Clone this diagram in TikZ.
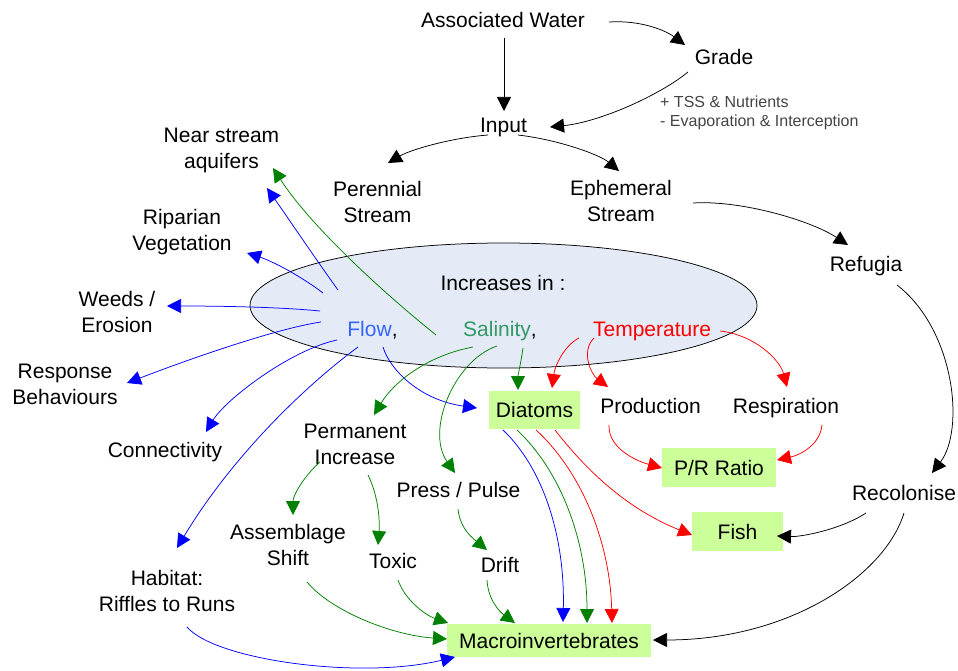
\documentclass[tikz,border=0pt]{standalone}
\usepackage{fontspec}
\setmainfont{Liberation Sans}
\usetikzlibrary{arrows.meta,shapes.geometric}
\definecolor{ellfill}{RGB}{228,234,246}
\definecolor{boxgreen}{RGB}{204,255,153}
\definecolor{flowtext}{RGB}{51,102,255}
\definecolor{saltext}{RGB}{51,153,102}
\definecolor{arrblue}{RGB}{0,0,255}
\definecolor{arrgreen}{RGB}{0,128,0}
\definecolor{arrred}{RGB}{255,0,0}
\definecolor{notegray}{RGB}{68,68,68}
\tikzset{
  lbl/.style={font=\fontsize{21}{26}\selectfont, inner sep=0pt, align=center},
  one/.style={lbl, anchor=base},
  two/.style={lbl, anchor=north},
  gbox/.style={lbl, anchor=center, fill=boxgreen},
  notetext/.style={font=\fontsize{16}{19}\selectfont, inner sep=0pt, align=left, text=notegray, anchor=north west},
  con/.style={line width=0.75pt, -{Triangle[length=14pt,width=14pt]}},
  blk/.style={con, draw=black},
  blu/.style={con, draw=arrblue},
  grn/.style={con, draw=arrgreen},
  rd/.style={con, draw=arrred}
}
\begin{document}
\begin{tikzpicture}[x=1pt,y=-1pt]
\useasboundingbox (0,0) rectangle (958,671);
% ellipse
\node[ellipse, draw=black, line width=0.75pt, fill=ellfill, minimum width=507pt, minimum height=125pt, inner sep=0pt] (ell) at (503.5,305.5) {};
% text nodes
\node[one] (aw) at (503,28) {Associated Water};
\node[one] (grade) at (724,65) {Grade};
\node[one] (input) at (503.5,133) {Input};
\node[notetext] (note) at (660,95.5) {+ TSS \& Nutrients\\- Evaporation \& Interception};
\node[two] (per) at (377.5,181) {Perennial\\Stream};
\node[two] (eph) at (621,180) {Ephemeral\\Stream};
\node[one] (refugia) at (866,271) {Refugia};
\node[two] (nsa) at (221.5,128) {Near stream\\aquifers};
\node[two] (rip) at (182,209) {Riparian\\Vegetation};
\node[two] (weeds) at (117,291) {Weeds /\\Erosion};
\node[two] (resp) at (65,364) {Response\\Behaviours};
\node[one] (conn) at (165,457) {Connectivity};
\node[two] (hab) at (167,570) {Habitat:\\Riffles to Runs};
\node[one] (inc) at (503,290) {Increases in :};
\node[one] (flow) at (372.5,336) {{\color{flowtext}Flow},};
\node[one] (sal) at (500,336) {{\color{saltext}Salinity},};
\node[one, text=arrred] (temp) at (652,336) {Temperature};
\node[gbox, minimum width=91pt, minimum height=38pt] (diat) at (534.5,410) {Diatoms};
\node[one] (prod) at (650.5,413) {Production};
\node[one] (respi) at (786,413) {Respiration};
\node[gbox, minimum width=114pt, minimum height=39pt] (pr) at (719,467.5) {P/R Ratio};
\node[two] (perm) at (355,424) {Permanent\\Increase};
\node[one] (press) at (458.5,497) {Press / Pulse};
\node[one] (recol) at (904,500) {Recolonise};
\node[gbox, minimum width=91pt, minimum height=39pt] (fish) at (737.5,531.5) {Fish};
\node[two] (assem) at (288,524) {Assemblage\\Shift};
\node[one] (toxic) at (393,568) {Toxic};
\node[one] (drift) at (500,572) {Drift};
\node[gbox, minimum width=204pt, minimum height=33pt] (macro) at (549,640.5) {Macroinvertebrates};
% black connectors
\draw[blk] ([shift={(1,10)}]aw.base) -- ([shift={(0.5,-22)}]input.base);
\draw[blk] ([shift={(106,-6)}]aw.base) .. controls (640,20) and (665,30) .. ([shift={(-39,-20)}]grade.base);
\draw[blk] ([shift={(-36,7)}]grade.base) .. controls (660,95) and (600,122) .. ([shift={(46.5,-6)}]input.base);
\draw[blk] ([shift={(-15.5,2)}]input.base) .. controls (450,138) and (410,150) .. ([shift={(10.5,-18)}]per.north);
\draw[blk] ([shift={(14.5,2)}]input.base) .. controls (560,140) and (600,155) .. ([shift={(-2,-9)}]eph.north);
\draw[blk] ([shift={(72,23)}]eph.north) .. controls (740,200) and (810,220) .. ([shift={(-18,-26)}]refugia.base);
\draw[blk] ([shift={(31,14)}]refugia.base) .. controls (955,330) and (965,430) .. ([shift={(28,-27)}]recol.base);
\draw[blk] ([shift={(-38,13)}]recol.base) .. controls (840,530) and (800,537) .. ([shift={(39.5,4.5)}]fish.center);
\draw[blk] ([shift={(0,13)}]recol.base) .. controls (885,575) and (790,640) .. ([shift={(104,-0.5)}]macro.center);
% blue connectors
\draw[blu] ([shift={(-34.5,-46)}]flow.base) .. controls (315,258) and (288,218) .. ([shift={(45.5,60)}]nsa.north);
\draw[blu] ([shift={(-49.5,-43)}]flow.base) .. controls (305,279) and (275,262) .. ([shift={(65,44)}]rip.north);
\draw[blu] ([shift={(-52.5,-25)}]flow.base) .. controls (280,307) and (220,306) .. ([shift={(50,15)}]weeds.north);
\draw[blu] ([shift={(-51.5,-14)}]flow.base) .. controls (280,328) and (200,355) .. ([shift={(62,19)}]resp.north);
\draw[blu] ([shift={(-35.5,4)}]flow.base) .. controls (290,350) and (225,400) .. ([shift={(41,-25)}]conn.base);
\draw[blu] ([shift={(-14.5,11)}]flow.base) .. controls (300,390) and (230,460) .. ([shift={(10,-22)}]hab.north);
\draw[blu] ([shift={(10.5,11)}]flow.base) .. controls (390,370) and (420,400) .. ([shift={(-57.5,-2)}]diat.center);
\draw[blu] ([shift={(20,57)}]hab.north) .. controls (215,660) and (360,680) .. ([shift={(-94,16.5)}]macro.center);
\draw[blu] ([shift={(-31.5,20)}]diat.center) .. controls (545,470) and (565,540) .. ([shift={(14,-18.5)}]macro.center);
% green connectors
\draw[grn] ([shift={(-64,-1)}]sal.base) .. controls (380,290) and (310,225) .. ([shift={(51.5,40)}]nsa.north);
\draw[grn] ([shift={(-27,11)}]sal.base) .. controls (430,355) and (395,380) .. ([shift={(19,-9)}]perm.north);
\draw[grn] ([shift={(-3,10)}]sal.base) .. controls (455,360) and (425,430) .. ([shift={(-3.5,-24)}]press.base);
\draw[grn] ([shift={(23,12)}]sal.base) .. controls (521,362) and (518,375) .. ([shift={(-16.5,-20)}]diat.center);
\draw[grn] ([shift={(-35,38)}]perm.north) .. controls (305,475) and (293,495) .. ([shift={(5,-9)}]assem.north);
\draw[grn] ([shift={(13,51)}]perm.north) .. controls (378,495) and (380,520) .. ([shift={(-15,-23)}]toxic.base);
\draw[grn] ([shift={(-0.5,12)}]press.base) .. controls (460,530) and (475,540) .. ([shift={(-13,-22)}]drift.base);
\draw[grn] ([shift={(19,58)}]assem.north) .. controls (330,610) and (390,635) .. ([shift={(-102,-1.5)}]macro.center);
\draw[grn] ([shift={(5,12)}]toxic.base) .. controls (405,600) and (425,615) .. ([shift={(-101,-17.5)}]macro.center);
\draw[grn] ([shift={(-13,8)}]drift.base) .. controls (488,600) and (500,612) .. ([shift={(-34,-17.5)}]macro.center);
\draw[grn] ([shift={(-17.5,20)}]diat.center) .. controls (560,470) and (587,540) .. ([shift={(38,-17.5)}]macro.center);
% red connectors
\draw[rd] ([shift={(-73,2)}]temp.base) .. controls (565,345) and (555,365) .. ([shift={(17.5,-22)}]diat.center);
\draw[rd] ([shift={(-58,2)}]temp.base) .. controls (580,352) and (592,375) .. ([shift={(-42.5,-26)}]prod.base);
\draw[rd] ([shift={(68,-5)}]temp.base) .. controls (755,335) and (780,360) .. ([shift={(1,-26)}]respi.base);
\draw[rd] ([shift={(-41.5,12)}]prod.base) .. controls (608,450) and (640,462) .. ([shift={(-57,0.5)}]pr.center);
\draw[rd] ([shift={(36,12)}]respi.base) .. controls (820,445) and (800,455) .. ([shift={(58,-7.5)}]pr.center);
\draw[rd] ([shift={(20.5,20)}]diat.center) .. controls (590,475) and (630,510) .. ([shift={(-45.5,3.5)}]fish.center);
\draw[rd] ([shift={(1.5,20)}]diat.center) .. controls (580,470) and (610,540) .. ([shift={(63,-17.5)}]macro.center);
\end{tikzpicture}
\end{document}
